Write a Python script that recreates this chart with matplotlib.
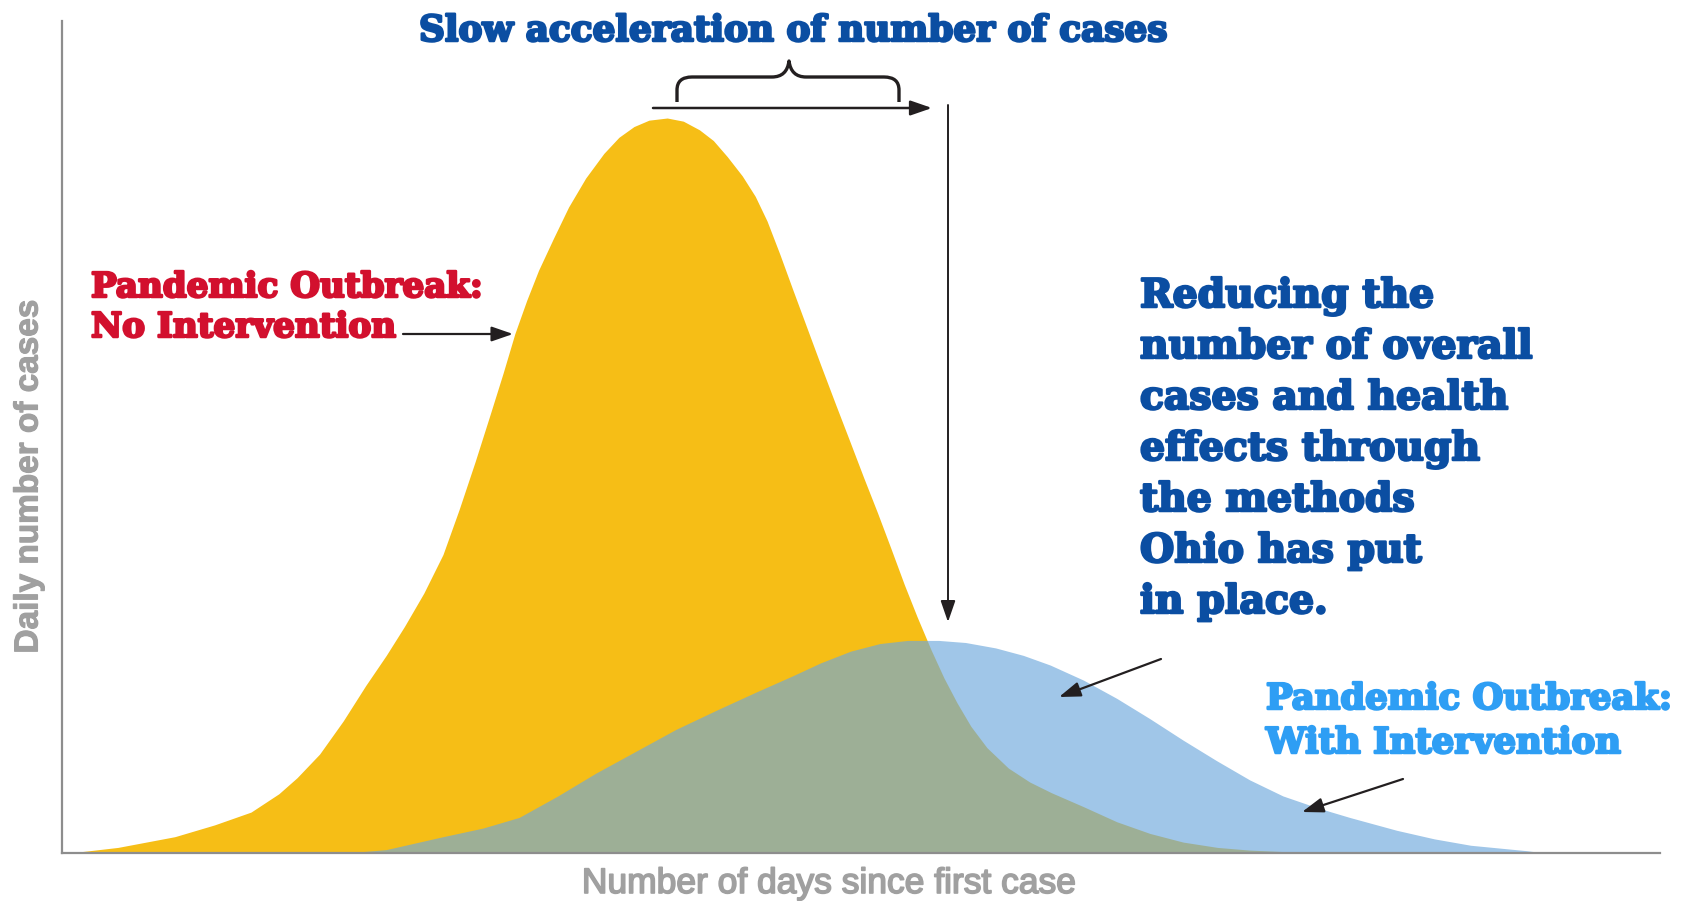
import matplotlib
matplotlib.use("Agg")
import matplotlib.pyplot as plt
import matplotlib.patheffects as pe
from matplotlib.path import Path
from matplotlib.patches import PathPatch, ArrowStyle, FancyArrowPatch

# curves (x: days, y: daily cases, both on a 0-100 scale)
no_interv_x = [0.48, 3.50, 7.06, 9.55, 11.83, 13.57, 14.71, 16.12, 17.60, 19.01, 20.29,
               21.43, 22.64, 23.84, 24.85, 25.86, 26.80, 27.60, 28.34, 29.08, 29.82,
               30.76, 31.70, 32.77, 33.91, 34.85, 35.79, 36.73, 37.87, 38.88, 39.89,
               40.76, 41.63, 42.57, 43.38, 44.12, 44.92, 45.73, 46.60, 47.47, 48.41,
               49.29, 50.16, 51.03, 51.84, 52.71, 53.51, 54.39, 55.19, 56.00, 56.87,
               57.88, 59.22, 60.56, 61.91, 63.92, 66.00, 68.08, 70.16, 72.31, 74.32,
               76.67, 79.36]
no_interv_y = [0, 0.67, 1.96, 3.38, 4.92, 7.12, 9.05, 11.89, 15.88, 20.14, 23.75,
               27.23, 31.23, 35.87, 41.28, 47.08, 52.76, 57.66, 62.43, 66.42, 70.03,
               73.90, 77.64, 81.12, 84.09, 86.02, 87.31, 88.08, 88.34, 87.96, 86.92,
               85.63, 83.70, 81.38, 78.93, 75.96, 71.97, 67.71, 63.20, 58.69, 53.92,
               49.53, 45.15, 40.90, 36.77, 32.26, 28.39, 24.39, 21.04, 18.08, 15.24,
               12.66, 10.21, 8.53, 7.25, 5.57, 3.76, 2.35, 1.31, 0.67, 0.35,
               0.15, 0]

with_interv_x = [17.80, 20.29, 23.84, 26.33, 28.61, 31.03, 33.38, 36.20, 38.41, 40.96,
                 43.45, 45.73, 47.47, 49.35, 51.17, 52.91, 54.86, 56.54, 58.42, 60.16,
                 61.84, 63.92, 66.00, 68.08, 70.16, 72.24, 74.32, 76.40, 78.55, 80.57,
                 83.52, 85.87, 88.15, 91.64, 92.78]
with_interv_y = [0, 0.41, 1.96, 2.99, 4.28, 6.86, 9.57, 12.53, 14.85, 17.17,
                 19.36, 21.30, 22.85, 24.26, 25.17, 25.55, 25.55, 25.30, 24.65, 23.75,
                 22.59, 20.78, 18.59, 16.14, 13.56, 11.11, 8.79, 6.86, 5.44, 4.28,
                 2.73, 1.70, 0.93, 0.28, 0]

title = "Slow acceleration of number of cases"
red_lines = ["Pandemic Outbreak:", "No Intervention"]
light_lines = ["Pandemic Outbreak:", "With Intervention"]
note_lines = ["Reducing the", "number of overall", "cases and health",
              "effects through", "the methods", "Ohio has put", "in place."]

W, H = 1682, 901
YELLOW = "#F6BE16"
BLUE = "#6DA8DC"
RED = "#D2102E"
DARK_BLUE = "#0B4EA2"
LIGHT_BLUE = "#2E9EF4"
GRAY = "#A0A0A0"
INK = "#231F20"


def fp(x, y):
    # pixel position in the picture -> figure fraction
    return (x / W, 1 - y / H)


def heavy(color, w=1.8):
    return [pe.withStroke(linewidth=w, foreground=color)]


fig = plt.figure(figsize=(W / 100, H / 100), dpi=100)
ax = fig.add_axes([62 / W, (H - 853) / H, (1660 - 62) / W, (853 - 21) / H])

ax.fill_between(no_interv_x, no_interv_y, 0, color=YELLOW, lw=0, zorder=1)
ax.fill_between(with_interv_x, with_interv_y, 0, color=BLUE, alpha=0.65, lw=0, zorder=2)

ax.set_xlim(0, 100)
ax.set_ylim(0, 100)
ax.set_xticks([])
ax.set_yticks([])
for s in ["top", "right"]:
    ax.spines[s].set_visible(False)
for s in ["left", "bottom"]:
    ax.spines[s].set_color("#8D8D8D")
    ax.spines[s].set_linewidth(1.6)

slab = "DejaVu Serif"
sans = ["Liberation Sans", "DejaVu Sans"]

# axis labels
fig.text(*fp(29, 476), "Daily number of cases", rotation=90, ha="center", va="center",
         fontsize=24, fontweight="bold", color=GRAY, family=sans,
         path_effects=heavy(GRAY, 0.8))
fig.text(*fp(829, 893), "Number of days since first case", ha="center", va="baseline",
         fontsize=25.5, color=GRAY, family=sans, path_effects=heavy(GRAY, 1.2))

# title
fig.text(*fp(419, 41), title, ha="left", va="baseline", fontsize=25.8,
         fontweight="bold", color=DARK_BLUE, family=slab, path_effects=heavy(DARK_BLUE))

# red label
for i, line in enumerate(red_lines):
    fig.text(*fp(91, 297 + 40 * i), line, ha="left", va="baseline", fontsize=24.6,
             fontweight="bold", color=RED, family=slab, path_effects=heavy(RED))

# light blue label
for i, line in enumerate(light_lines):
    fig.text(*fp(1266, 709 + 44 * i), line, ha="left", va="baseline", fontsize=25.5,
             fontweight="bold", color=LIGHT_BLUE, family=slab, path_effects=heavy(LIGHT_BLUE))

# dark blue note
for i, line in enumerate(note_lines):
    fig.text(*fp(1140, 307 + 51 * i), line, ha="left", va="baseline", fontsize=28.3,
             fontweight="bold", color=DARK_BLUE, family=slab, path_effects=heavy(DARK_BLUE))

# arrows
head = ArrowStyle("-|>", head_length=1.3, head_width=0.45)


def arrow(x0, y0, x1, y1, lw=1.6):
    fig.add_artist(FancyArrowPatch(
        fp(x0, y0), fp(x1, y1), transform=fig.transFigure, arrowstyle=head,
        mutation_scale=10, color=INK, lw=lw, shrinkA=0, shrinkB=0))


arrow(653, 108, 932, 108, lw=1.8)
arrow(948, 105, 948, 622, lw=1.4)
arrow(403, 334, 513, 334, lw=1.6)
arrow(1161, 659, 1059, 697, lw=1.6)
arrow(1403, 779, 1302, 812, lw=1.6)

# curly brace
verts = [(677, 102), (677, 90), (677, 77), (692, 77), (772, 77), (787, 77), (789, 61),
         (791, 77), (806, 77), (884, 77), (899, 77), (899, 90), (899, 102)]
codes = [Path.MOVETO, Path.LINETO, Path.CURVE3, Path.CURVE3, Path.LINETO,
         Path.CURVE3, Path.CURVE3, Path.CURVE3, Path.CURVE3, Path.LINETO,
         Path.CURVE3, Path.CURVE3, Path.LINETO]
brace = Path([fp(x, y) for x, y in verts], codes)
fig.add_artist(PathPatch(brace, transform=fig.transFigure, fill=False,
                         edgecolor=INK, lw=2.4, capstyle="butt", joinstyle="round"))

fig.savefig("out.png", dpi=100)
